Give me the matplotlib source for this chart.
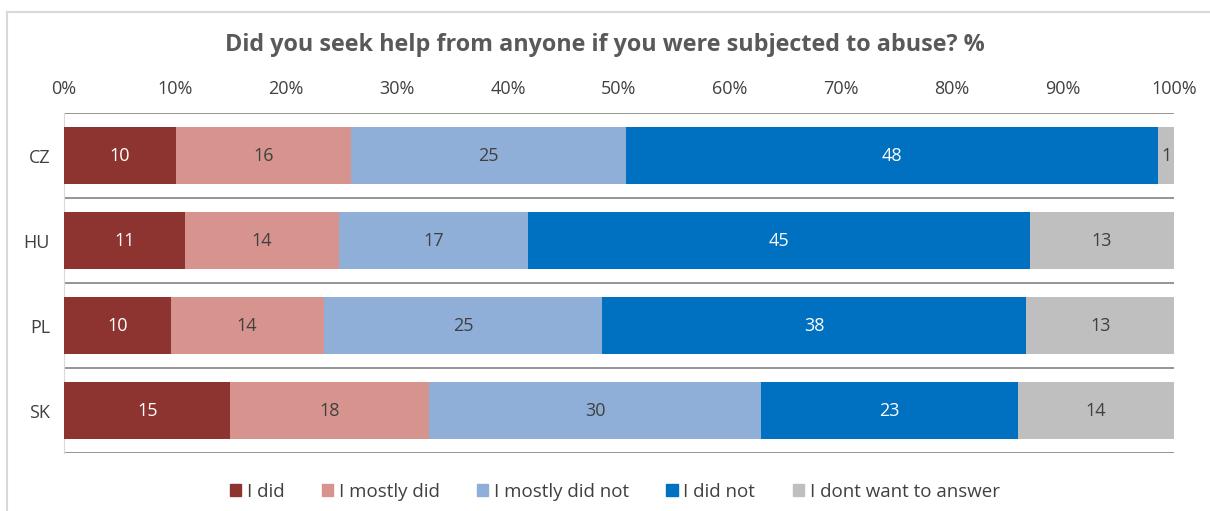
import matplotlib
matplotlib.use("Agg")
import matplotlib.pyplot as plt
from matplotlib.lines import Line2D
import numpy as np

plt.rcParams['font.family'] = ['Open Sans', 'DejaVu Sans']

countries = ["CZ", "HU", "PL", "SK"]
series = ["I did", "I mostly did", "I mostly did not", "I did not", "I dont want to answer"]
i_did = [10.1, 10.9, 9.6, 15.0]
mostly_did = [15.8, 13.9, 13.8, 17.9]
mostly_did_not = [24.7, 17.0, 25.1, 30.0]
did_not = [48.0, 45.2, 38.2, 23.1]
dont_answer = [1.4, 13.0, 13.3, 14.1]
colors = ["#8E3430", "#D7948F", "#8FAFD8", "#0070C0", "#BFBFBF"]
text_colors = ["white", "#404040", "#404040", "white", "#404040"]
title = "Did you seek help from anyone if you were subjected to abuse? %"

data = np.array([i_did, mostly_did, mostly_did_not, did_not, dont_answer])
data = data / data.sum(axis=0) * 100

fig = plt.figure(figsize=(12.1, 5.11), dpi=100)
ax = fig.add_axes([64/1210, 1-453/511, (1174-64)/1210, (453-113)/511])

y = np.arange(len(countries))
left = np.zeros(len(countries))
for i, name in enumerate(series):
    vals = data[i]
    ax.barh(y, vals, left=left, height=0.66, color=colors[i], label=name, zorder=3)
    for j, v in enumerate(vals):
        ax.text(left[j] + v/2, y[j], f"{round(v):.0f}", ha="center", va="center",
                color=text_colors[i], fontsize=13, zorder=4)
    left += vals

ax.set_xlim(0, 100)
ax.set_ylim(len(countries)-0.5, -0.5)
ax.set_yticks(y)
ax.set_yticklabels(countries, fontsize=13, color="#404040")
ax.set_xticks(np.arange(0, 101, 10))
ax.set_xticklabels([f"{t}%" for t in range(0, 101, 10)], fontsize=13, color="#404040")
ax.xaxis.tick_top()
ax.tick_params(axis="x", length=0, pad=11)
ax.tick_params(axis="y", length=0, pad=10)
for s in ["top", "right", "bottom"]:
    ax.spines[s].set_visible(False)
ax.spines["left"].set_color("#D9D9D9")
for b in np.arange(-0.5, len(countries), 1.0):
    ax.axhline(b, color="#8C8C8C", lw=1.3, zorder=2)

fig.text(0.5, 1-45/511, title, ha="center", va="center", fontsize=16.8,
         fontweight="bold", color="#595959")

handles = [plt.Rectangle((0, 0), 1, 1, color=c) for c in colors]
fig.legend(handles, series, loc="center", bbox_to_anchor=(0.508, 1-492/511), ncol=5,
           frameon=False, fontsize=13.5, handlelength=0.6, handleheight=0.6,
           handletextpad=0.3, columnspacing=2.0, labelcolor="#404040")

fig.add_artist(Line2D([7/1210, 1], [1-12/511, 1-12/511], color="#D9D9D9", lw=1.5))
fig.add_artist(Line2D([7/1210, 7/1210], [0, 1-12/511], color="#D9D9D9", lw=1.5))

fig.savefig("out.png", dpi=100)
